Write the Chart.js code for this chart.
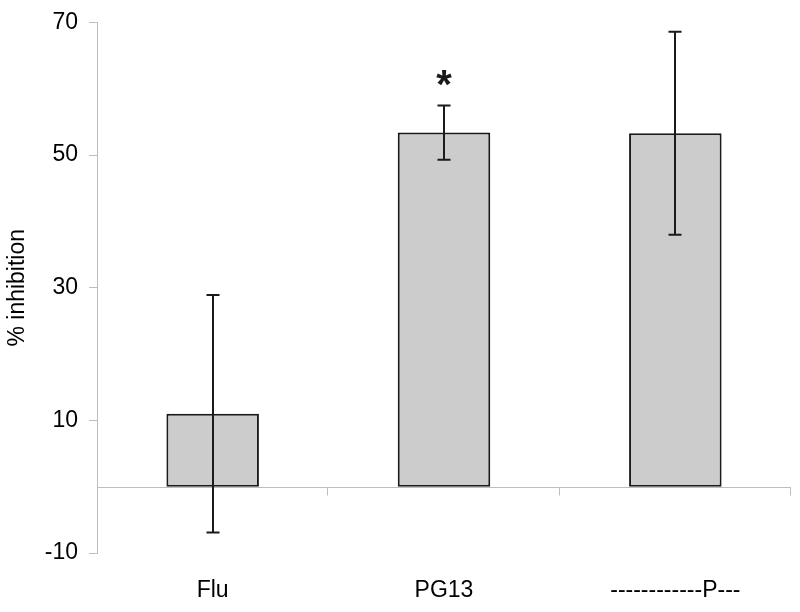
<!DOCTYPE html>
<html><head><meta charset="utf-8">
<script src="https://cdn.jsdelivr.net/npm/chart.js@4/dist/chart.umd.min.js"></script>
<style>html,body{margin:0;padding:0;background:#fff}#wrap{width:800px;height:612px}</style>
</head><body><div id="wrap"><canvas id="c" width="800" height="612"></canvas></div>
<script>
const categories = ['Flu', 'PG13', '------------P---'];
const inhibition = [11.0, 53.4, 53.3];
const errorSize = [17.9, 4.1, 15.3];
const significance = ['', '*', ''];
const yTicks = [-10, 10, 30, 50, 70];

const FONT = "'Liberation Sans', Arial, sans-serif";
const AXIS_GREY = '#bdbdbd';
const INK = '#1a1a1a';

const overlay = {
  id: 'overlay',
  beforeDatasetsDraw(chart) {
    const { ctx, chartArea: a, scales: { x, y } } = chart;
    const y0 = Math.round(y.getPixelForValue(0)) + 0.5;
    const half = (x.getPixelForValue(1) - x.getPixelForValue(0)) / 2;
    ctx.save();
    ctx.strokeStyle = AXIS_GREY;
    ctx.lineWidth = 1;
    ctx.beginPath();
    ctx.moveTo(a.left, y0);
    ctx.lineTo(a.right, y0);
    categories.forEach((c, i) => {
      const bx = Math.round(x.getPixelForValue(i) + half) - 0.5;
      ctx.moveTo(bx, y0);
      ctx.lineTo(bx, y0 + 8);
    });
    ctx.stroke();
    ctx.restore();
  },
  afterDatasetsDraw(chart) {
    const { ctx, scales: { x, y } } = chart;
    ctx.save();
    ctx.strokeStyle = INK;
    ctx.lineWidth = 2;
    inhibition.forEach((v, i) => {
      const cx = Math.round(x.getPixelForValue(i));
      const yt = y.getPixelForValue(v + errorSize[i]);
      const yb = y.getPixelForValue(v - errorSize[i]);
      ctx.beginPath();
      ctx.moveTo(cx, yt); ctx.lineTo(cx, yb);
      ctx.moveTo(cx - 6.5, yt); ctx.lineTo(cx + 6.5, yt);
      ctx.moveTo(cx - 6.5, yb); ctx.lineTo(cx + 6.5, yb);
      ctx.stroke();
      if (significance[i]) {
        ctx.fillStyle = INK;
        ctx.font = 'bold 40px ' + FONT;
        ctx.textAlign = 'center';
        ctx.textBaseline = 'alphabetic';
        const m = ctx.measureText(significance[i]);
        const centre = yt - 27;
        const base = centre - (m.actualBoundingBoxDescent - m.actualBoundingBoxAscent) / 2;
        ctx.fillText(significance[i], cx, base);
      }
    });
    ctx.restore();
  }
};

new Chart(document.getElementById('c'), {
  type: 'bar',
  data: {
    labels: categories,
    datasets: [{
      data: inhibition,
      backgroundColor: '#cccccc',
      borderColor: INK,
      borderWidth: 2,
      borderSkipped: false,
      barPercentage: 0.4,
      categoryPercentage: 1.0
    }]
  },
  options: {
    responsive: false,
    animation: false,
    layout: { padding: { top: 22, right: 9, left: 0, bottom: 0 } },
    plugins: { legend: { display: false }, tooltip: { enabled: false } },
    scales: {
      x: {
        grid: { display: false, drawTicks: false },
        border: { display: false },
        ticks: { color: '#000', font: { family: FONT, size: 23 }, padding: 24, maxRotation: 0 },
        afterFit(s) { s.height = 59; }
      },
      y: {
        min: -10, max: 70,
        afterBuildTicks(s) { s.ticks = yTicks.map(v => ({ value: v })); },
        grid: { drawOnChartArea: false, drawTicks: true, tickLength: 8, color: AXIS_GREY },
        border: { display: true, color: AXIS_GREY, width: 1 },
        ticks: { color: '#000', font: { family: FONT, size: 23, lineHeight: 1 }, padding: 11 },
        title: { display: true, text: '% inhibition', color: '#000', font: { family: FONT, size: 23 }, padding: { top: 4, bottom: 0 } },
        afterFit(s) { s.width = 97; }
      }
    }
  },
  plugins: [overlay]
});
</script>
</body></html>
